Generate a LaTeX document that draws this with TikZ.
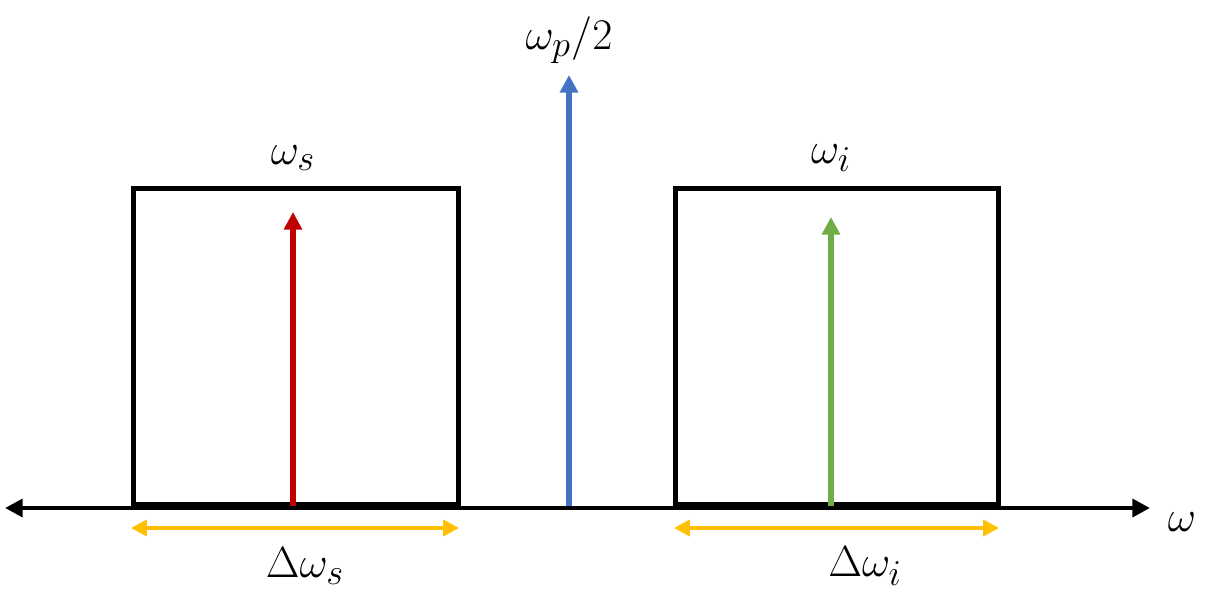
\documentclass[tikz,border=0pt]{standalone}
\usetikzlibrary{arrows.meta}
\definecolor{cred}{HTML}{C00000}
\definecolor{cblue}{HTML}{4472C4}
\definecolor{cgreen}{HTML}{70AD47}
\definecolor{cyel}{HTML}{FFC000}
\begin{document}
\begin{tikzpicture}[x=0.02cm,y=-0.02cm,
  box/.style={draw=black,line width=2.8pt},
  tip/.style={-{Triangle[length=10pt,width=10pt]}},
  lab/.style={font=\fontsize{29}{33}\selectfont,inner sep=0pt}]
\useasboundingbox (0,0) rectangle (1214,606);
\coordinate (al) at (5,508); \coordinate (ar) at (1150,508);
\draw[line width=2.8pt,{Triangle[length=10pt,width=10pt]}-{Triangle[length=10pt,width=10pt]}] (al) -- (ar);
\node[box,minimum width=6.5cm,minimum height=6.32cm,anchor=south west,inner sep=0pt] (bs) at (131,507) {};
\node[box,minimum width=6.46cm,minimum height=6.32cm,anchor=south west,inner sep=0pt] (bi) at (673,507) {};
\coordinate (rs) at (293,506); \coordinate (re) at (293,212);
\coordinate (gs) at (831,506); \coordinate (ge) at (831,217);
\coordinate (bls) at (569,506); \coordinate (ble) at (569,75);
\draw[tip,cred,line width=3pt] (rs) -- (re);
\draw[tip,cgreen,line width=3pt] (gs) -- (ge);
\draw[tip,cblue,line width=3pt] (bls) -- (ble);
\coordinate (ys1) at (131,528); \coordinate (ys2) at (459,528);
\coordinate (yi1) at (674,528); \coordinate (yi2) at (999,528);
\draw[cyel,line width=2.5pt,{Triangle[length=9pt,width=9pt]}-{Triangle[length=9pt,width=9pt]}] (ys1) -- (ys2);
\draw[cyel,line width=2.5pt,{Triangle[length=9pt,width=9pt]}-{Triangle[length=9pt,width=9pt]}] (yi1) -- (yi2);
\node[lab] (ls) at (293,158) {$\omega_s$};
\node[lab] (li) at (831,158) {$\omega_i$};
\node[lab] (lp) at (569,40) {$\omega_p/2$};
\node[lab] (ds) at (305,566) {$\Delta\omega_s$};
\node[lab] (di) at (865,566) {$\Delta\omega_i$};
\node[lab] (lw) at (1182,522) {$\omega$};
\end{tikzpicture}
\end{document}
